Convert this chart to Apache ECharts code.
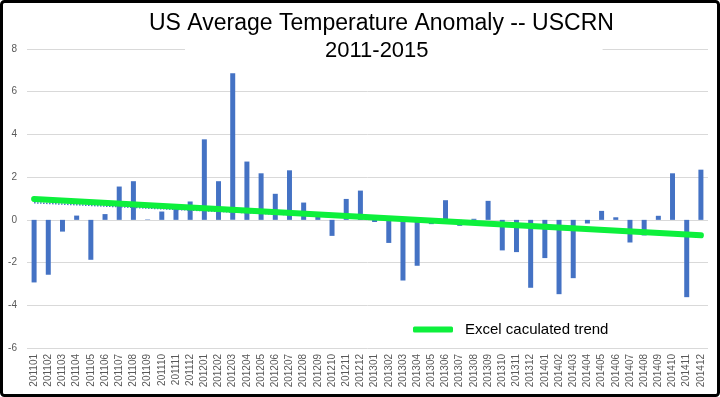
<!DOCTYPE html>
<html>
<head>
<meta charset="utf-8">
<script src="https://cdn.jsdelivr.net/npm/echarts@6/dist/echarts.min.js"></script>
<style>
  html, body { margin: 0; padding: 0; background: #fff; }
  #chart { width: 720px; height: 397px; }
</style>
</head>
<body>
<div id="chart"></div>
<script>
const months = [
  '201101', '201102', '201103', '201104', '201105', '201106', '201107', '201108', '201109', '201110', '201111', '201112',
  '201201', '201202', '201203', '201204', '201205', '201206', '201207', '201208', '201209', '201210', '201211', '201212',
  '201301', '201302', '201303', '201304', '201305', '201306', '201307', '201308', '201309', '201310', '201311', '201312',
  '201401', '201402', '201403', '201404', '201405', '201406', '201407', '201408', '201409', '201410', '201411', '201412'
];
const anomaly = [
  -2.93, -2.57, -0.55, 0.20, -1.87, 0.27, 1.56, 1.81, 0.02, 0.39, 0.55, 0.86,
  3.77, 1.81, 6.86, 2.73, 2.18, 1.22, 2.32, 0.81, 0.16, -0.75, 0.98, 1.37,
  -0.10, -1.08, -2.84, -2.15, -0.20, 0.92, -0.28, 0.05, 0.89, -1.43, -1.51, -3.18,
  -1.79, -3.48, -2.73, -0.17, 0.42, 0.12, -1.06, -0.73, 0.19, 2.18, -3.62, 2.35
];
// trend lines, read at first and last month
const trendMonths = ['201101', '201412'];
const greenTrend = [0.98, -0.72];
const dottedTrend = [0.80, -0.66];
const yTicks = { min: -6, max: 8, interval: 2 };

const green = '#0df03c';
const blue = '#4472c4';
const font = "'Liberation Sans', Arial, sans-serif";

let chart = echarts.init(document.getElementById('chart'));
chart.setOption({
  backgroundColor: '#fff',
  animation: false,
  title: [
    {
      text: 'US Average Temperature Anomaly -- USCRN',
      left: 149,
      top: 12,
      padding: 0,
      textStyle: { fontSize: 23, fontWeight: 'normal', color: '#000', fontFamily: font }
    },
    {
      text: '2011-2015',
      left: 185,
      top: 39,
      padding: [1, 174, 1, 140],
      backgroundColor: '#fff',
      textStyle: { fontSize: 22, fontWeight: 'normal', color: '#000', fontFamily: font }
    }
  ],
  legend: {
    left: 413,
    top: 322,
    padding: 0,
    data: [{ name: 'Excel caculated trend', icon: 'roundRect' }],
    itemWidth: 40,
    itemHeight: 6,
    textStyle: { fontSize: 15, color: '#000', fontFamily: font, padding: [0, 0, 0, 7] }
  },
  grid: { left: 27, right: 12, top: 49, bottom: 49 },
  xAxis: {
    type: 'category',
    data: months,
    boundaryGap: true,
    axisLine: { show: false },
    axisTick: { show: false },
    axisLabel: { rotate: 90, fontSize: 10, color: '#595959', fontFamily: font, margin: 6, interval: 0 }
  },
  yAxis: {
    type: 'value',
    min: yTicks.min,
    max: yTicks.max,
    interval: yTicks.interval,
    axisLine: { show: false },
    axisTick: { show: false },
    axisLabel: { fontSize: 10, color: '#595959', fontFamily: font, margin: 10 },
    splitLine: { lineStyle: { color: '#d9d9d9', width: 1 } }
  },
  series: [
    {
      name: 'Anomaly',
      type: 'bar',
      data: anomaly,
      barWidth: 5,
      itemStyle: { color: blue }
    },
    {
      name: 'Linear trend',
      type: 'line',
      data: trendMonths.map((m, i) => [m, dottedTrend[i]]),
      symbol: 'none',
      z: 3,
      lineStyle: { color: blue, width: 1.5, type: 'dotted' }
    },
    {
      name: 'Excel caculated trend',
      type: 'line',
      data: trendMonths.map((m, i) => [m, greenTrend[i]]),
      symbol: 'none',
      z: 4,
      color: green,
      itemStyle: { color: green },
      lineStyle: { color: green, width: 6, cap: 'round' }
    }
  ],
  graphic: [
    {
      type: 'rect',
      z: 100,
      shape: { x: 1.5, y: 1.5, width: 717, height: 394, r: 3 },
      style: { fill: 'none', stroke: '#000', lineWidth: 3 }
    }
  ]
});
</script>
</body>
</html>
